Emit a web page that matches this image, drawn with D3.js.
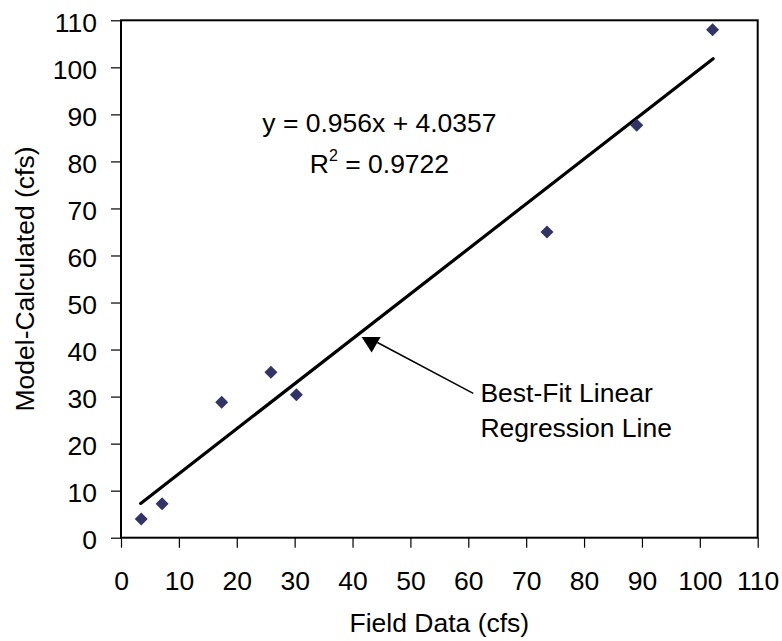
<!DOCTYPE html>
<html>
<head>
<meta charset="utf-8">
<script src="https://cdn.jsdelivr.net/npm/d3@7"></script>
<style>
  html, body { margin: 0; padding: 0; background: #fff; }
  svg text { font-family: Arial, "Liberation Sans", sans-serif; fill: #000; }
</style>
</head>
<body>
<div id="chart"></div>
<script>
// 观测 vs 模型 数据
const fieldData = [3.5, 7.1, 17.4, 25.9, 30.3, 73.6, 89.1, 102.2];
const modelData = [4.0, 7.2, 28.8, 35.2, 30.4, 65.0, 87.7, 108.0];
const tickValues = [0, 10, 20, 30, 40, 50, 60, 70, 80, 90, 100, 110];
const slope = 0.956;
const intercept = 4.0357;
const rSquared = '0.9722';

(function() {
  'use strict';

  const W = 782, H = 641;
  const margin = { top: 20.3, right: 24.3, bottom: 103.3, left: 121 };
  const fontSize = 26.5;

  const svg = d3.select('#chart').append('svg')
    .attr('width', W)
    .attr('height', H);

  const x = d3.scaleLinear().domain([0, 110]).range([margin.left, W - margin.right]);
  const y = d3.scaleLinear().domain([0, 110]).range([H - margin.bottom, margin.top]);

  // 坐标轴
  const xAxis = svg.append('g')
    .attr('transform', `translate(0,${y(0)})`)
    .call(d3.axisBottom(x).tickValues(tickValues).tickSize(10).tickPadding(23.5).tickSizeOuter(0));
  const yAxis = svg.append('g')
    .attr('transform', `translate(${x(0)},0)`)
    .call(d3.axisLeft(y).tickValues(tickValues).tickSize(10).tickPadding(14).tickSizeOuter(0));

  [xAxis, yAxis].forEach(g => {
    g.select('.domain').remove();
    g.selectAll('line').attr('stroke', '#000').attr('stroke-width', 1.2);
    g.selectAll('text').attr('font-size', fontSize).attr('font-family', null);
  });
  yAxis.selectAll('text').attr('dy', '0.42em');

  // 边框
  svg.append('rect')
    .attr('x', x(0))
    .attr('y', y(110))
    .attr('width', x(110) - x(0))
    .attr('height', y(0) - y(110))
    .attr('fill', 'none')
    .attr('stroke', '#000')
    .attr('stroke-width', 2);

  // 回归线
  const xs = d3.extent(fieldData);
  svg.append('line')
    .attr('x1', x(xs[0] - 0.1))
    .attr('y1', y(slope * (xs[0] - 0.1) + intercept))
    .attr('x2', x(xs[1] + 0.1))
    .attr('y2', y(slope * (xs[1] + 0.1) + intercept))
    .attr('stroke', '#000')
    .attr('stroke-width', 3.2)
    .attr('stroke-linecap', 'round');

  // 数据点
  const pts = fieldData.map((v, i) => ({ fx: v, my: modelData[i] }));
  const r = 6.5;
  svg.selectAll('.pt')
    .data(pts)
    .enter()
    .append('path')
    .attr('class', 'pt')
    .attr('d', `M0,${-r}L${r},0L0,${r}L${-r},0Z`)
    .attr('transform', d => `translate(${x(d.fx)},${y(d.my)})`)
    .attr('fill', '#333366');

  // 公式标签
  const eqX = 44.65;
  svg.append('text')
    .attr('x', x(eqX))
    .attr('y', y(86.3))
    .attr('text-anchor', 'middle')
    .attr('font-size', fontSize)
    .text(`y = ${slope}x + ${intercept}`);

  const r2 = svg.append('text')
    .attr('x', x(eqX))
    .attr('y', y(77.5))
    .attr('text-anchor', 'middle')
    .attr('font-size', fontSize);
  r2.append('tspan').text('R');
  r2.append('tspan').attr('font-size', 16).attr('dy', -12).text('2');
  r2.append('tspan').attr('dy', 12).text(` = ${rSquared}`);

  // 箭头注释
  const tip = { fx: 43.3, my: 39.4 };
  svg.append('line')
    .attr('x1', x(44.3))
    .attr('y1', y(41.5))
    .attr('x2', x(60.85))
    .attr('y2', y(30.7))
    .attr('stroke', '#000')
    .attr('stroke-width', 1.5);
  const tx = x(tip.fx), ty = y(tip.my);
  svg.append('path')
    .attr('d', `M${tx},${ty}L${tx - 10},${ty - 15.5}L${tx + 9},${ty - 15.5}Z`)
    .attr('fill', '#000');

  const note = svg.append('text')
    .attr('x', x(62.1))
    .attr('y', y(28.8))
    .attr('font-size', fontSize);
  note.append('tspan').attr('x', x(62.1)).text('Best-Fit Linear');
  note.append('tspan').attr('x', x(62.1)).attr('dy', 34.4).text('Regression Line');

  // 轴标题
  svg.append('text')
    .attr('x', (x(0) + x(110)) / 2)
    .attr('y', 632)
    .attr('text-anchor', 'middle')
    .attr('font-size', fontSize)
    .text('Field Data (cfs)');

  svg.append('text')
    .attr('transform', `translate(34,${(y(0) + y(110)) / 2}) rotate(-90)`)
    .attr('text-anchor', 'middle')
    .attr('font-size', fontSize)
    .text('Model-Calculated (cfs)');
})();
</script>
</body>
</html>
